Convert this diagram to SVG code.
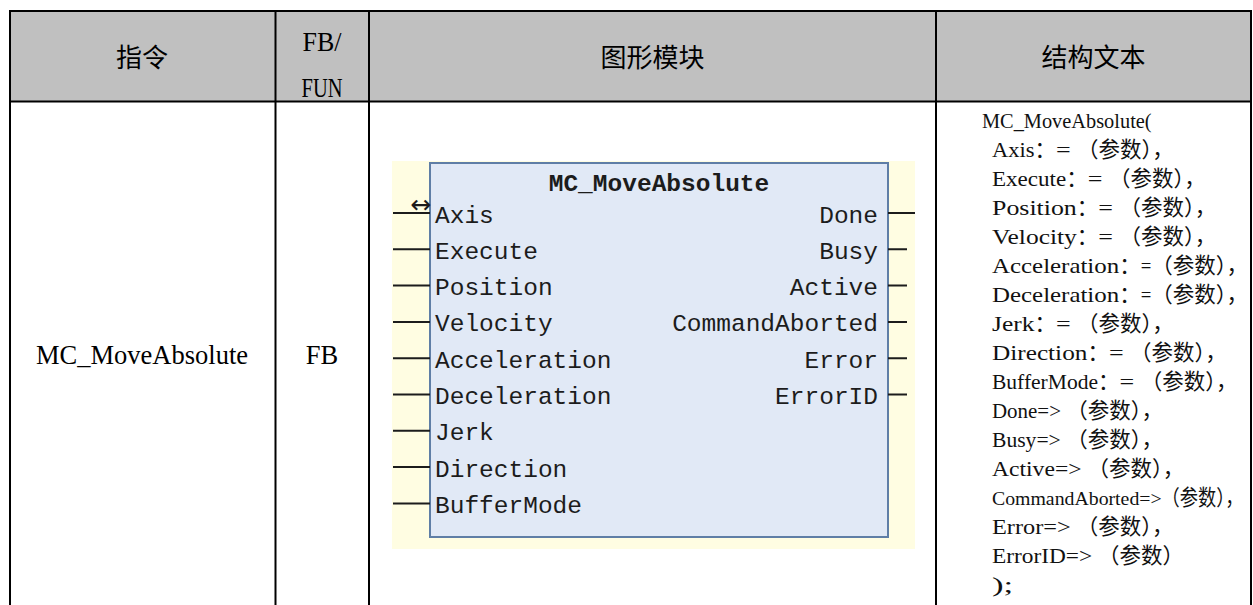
<svg xmlns="http://www.w3.org/2000/svg" width="1253" height="605" viewBox="0 0 1253 605">
<style>
.hdr{font-family:"Noto Sans CJK SC","Noto Sans",sans-serif;font-size:26px;fill:#000;text-anchor:middle}
.ser{font-family:"Liberation Serif","Noto Sans CJK SC",serif;fill:#000}
.mono{font-family:"Liberation Mono","DejaVu Sans Mono",monospace;font-size:24.5px;fill:#1c1c1c}
.st{font-family:"Liberation Serif","Noto Sans CJK SC",serif;font-size:21px;fill:#111;white-space:pre}
.cj{font-family:"Noto Sans CJK SC",sans-serif;font-size:21.5px}
.grid{stroke:#000;stroke-width:2;fill:none}
.pin{stroke:#1c1c1c;stroke-width:2}
</style>
<g id="table">
  <rect x="10" y="11" width="1241" height="90.5" fill="#c0c0c0"/>
  <path class="grid" d="M10,11 H1251 M10,101.5 H1251 M10,10 V605 M275.5,11 V605 M369,11 V605 M936,11 V605 M1251,10 V605"/>
</g>
<g id="header">
  <text class="hdr" x="142" y="67">指令</text>
  <text class="ser" x="322" y="51" font-size="27" text-anchor="middle" textLength="39" lengthAdjust="spacingAndGlyphs">FB/</text>
  <text class="ser" x="322" y="97" font-size="27" text-anchor="middle" textLength="41" lengthAdjust="spacingAndGlyphs">FUN</text>
  <text class="hdr" x="652.5" y="67">图形模块</text>
  <text class="hdr" x="1093.5" y="67">结构文本</text>
</g>
<g id="row">
  <text class="ser" x="142" y="364" font-size="26.5" text-anchor="middle">MC_MoveAbsolute</text>
  <text class="ser" x="322" y="364" font-size="26.5" text-anchor="middle">FB</text>
</g>
<g id="fb-block">
  <rect x="392" y="161" width="523" height="388" fill="#fffde2"/>
  <rect x="430" y="163" width="458" height="374" fill="#e1e9f6" stroke="#5f7ea6" stroke-width="2"/>
  <text class="mono" x="659" y="191" font-weight="bold" text-anchor="middle">MC_MoveAbsolute</text>
  <g id="inputs">
    <text class="mono" x="435" y="222.5">Axis</text>
    <text class="mono" x="435" y="258.8">Execute</text>
    <text class="mono" x="435" y="295.1">Position</text>
    <text class="mono" x="435" y="331.4">Velocity</text>
    <text class="mono" x="435" y="367.7">Acceleration</text>
    <text class="mono" x="435" y="404">Deceleration</text>
    <text class="mono" x="435" y="440.3">Jerk</text>
    <text class="mono" x="435" y="476.6">Direction</text>
    <text class="mono" x="435" y="512.9">BufferMode</text>
  </g>
  <g id="outputs" text-anchor="end">
    <text class="mono" x="878" y="222.5">Done</text>
    <text class="mono" x="878" y="258.8">Busy</text>
    <text class="mono" x="878" y="295.1">Active</text>
    <text class="mono" x="878" y="331.4">CommandAborted</text>
    <text class="mono" x="878" y="367.7">Error</text>
    <text class="mono" x="878" y="404">ErrorID</text>
  </g>
  <text x="421" y="213" font-family="DejaVu Sans,sans-serif" font-size="25" text-anchor="middle" fill="#1c1c1c">↔</text>
</g>
<g id="connectors">
  <path class="pin" d="M393,213 H430 M393,249.3 H430 M393,285.6 H430 M393,321.9 H430 M393,358.2 H430 M393,394.5 H430 M393,430.8 H430 M393,467.1 H430 M393,503.4 H430"/>
  <path class="pin" d="M888,213 H915 M888,249.3 H907 M888,285.6 H907 M888,321.9 H907 M888,358.2 H907 M888,394.5 H907"/>
</g>
<g id="structured-text">
  <text class="st" y="128"><tspan x="982" textLength="169.6" lengthAdjust="spacingAndGlyphs">MC_MoveAbsolute(</tspan></text>
  <text class="st" y="157"><tspan x="992" textLength="42.4" lengthAdjust="spacingAndGlyphs">Axis</tspan><tspan class="cj" x="1034.4">：</tspan><tspan x="1055.9" textLength="21.2" lengthAdjust="spacingAndGlyphs">= </tspan><tspan class="cj" x="1077.1">（参数），</tspan></text>
  <text class="st" y="186"><tspan x="992" textLength="74.2" lengthAdjust="spacingAndGlyphs">Execute</tspan><tspan class="cj" x="1066.2">：</tspan><tspan x="1087.7" textLength="21.2" lengthAdjust="spacingAndGlyphs">= </tspan><tspan class="cj" x="1108.9">（参数），</tspan></text>
  <text class="st" y="215"><tspan x="992" textLength="84.8" lengthAdjust="spacingAndGlyphs">Position</tspan><tspan class="cj" x="1076.8">：</tspan><tspan x="1098.3" textLength="21.2" lengthAdjust="spacingAndGlyphs">= </tspan><tspan class="cj" x="1119.5">（参数），</tspan></text>
  <text class="st" y="244"><tspan x="992" textLength="84.8" lengthAdjust="spacingAndGlyphs">Velocity</tspan><tspan class="cj" x="1076.8">：</tspan><tspan x="1098.3" textLength="21.2" lengthAdjust="spacingAndGlyphs">= </tspan><tspan class="cj" x="1119.5">（参数），</tspan></text>
  <text class="st" y="273"><tspan x="992" textLength="127.2" lengthAdjust="spacingAndGlyphs">Acceleration</tspan><tspan class="cj" x="1119.2">：</tspan><tspan x="1140.7" textLength="10.6" lengthAdjust="spacingAndGlyphs">=</tspan><tspan class="cj" x="1151.3">（参数），</tspan></text>
  <text class="st" y="302"><tspan x="992" textLength="127.2" lengthAdjust="spacingAndGlyphs">Deceleration</tspan><tspan class="cj" x="1119.2">：</tspan><tspan x="1140.7" textLength="10.6" lengthAdjust="spacingAndGlyphs">=</tspan><tspan class="cj" x="1151.3">（参数），</tspan></text>
  <text class="st" y="331"><tspan x="992" textLength="42.4" lengthAdjust="spacingAndGlyphs">Jerk</tspan><tspan class="cj" x="1034.4">：</tspan><tspan x="1055.9" textLength="21.2" lengthAdjust="spacingAndGlyphs">= </tspan><tspan class="cj" x="1077.1">（参数），</tspan></text>
  <text class="st" y="360"><tspan x="992" textLength="95.4" lengthAdjust="spacingAndGlyphs">Direction</tspan><tspan class="cj" x="1087.4">：</tspan><tspan x="1108.9" textLength="21.2" lengthAdjust="spacingAndGlyphs">= </tspan><tspan class="cj" x="1130.1">（参数），</tspan></text>
  <text class="st" y="389"><tspan x="992" textLength="106" lengthAdjust="spacingAndGlyphs">BufferMode</tspan><tspan class="cj" x="1098">：</tspan><tspan x="1119.5" textLength="21.2" lengthAdjust="spacingAndGlyphs">= </tspan><tspan class="cj" x="1140.7">（参数），</tspan></text>
  <text class="st" y="418"><tspan x="992" textLength="74.2" lengthAdjust="spacingAndGlyphs">Done=&gt; </tspan><tspan class="cj" x="1066.2">（参数），</tspan></text>
  <text class="st" y="447"><tspan x="992" textLength="74.2" lengthAdjust="spacingAndGlyphs">Busy=&gt; </tspan><tspan class="cj" x="1066.2">（参数），</tspan></text>
  <text class="st" y="476"><tspan x="992" textLength="95.4" lengthAdjust="spacingAndGlyphs">Active=&gt; </tspan><tspan class="cj" x="1087.4">（参数），</tspan></text>
  <text class="st" y="505"><tspan x="992" font-size="19.3" textLength="169.6" lengthAdjust="spacingAndGlyphs">CommandAborted=&gt;</tspan><tspan class="cj" x="1161.6" font-size="19" textLength="82" lengthAdjust="spacingAndGlyphs">（参数），</tspan></text>
  <text class="st" y="534"><tspan x="992" textLength="84.8" lengthAdjust="spacingAndGlyphs">Error=&gt; </tspan><tspan class="cj" x="1076.8">（参数），</tspan></text>
  <text class="st" y="563"><tspan x="992" textLength="106" lengthAdjust="spacingAndGlyphs">ErrorID=&gt; </tspan><tspan class="cj" x="1098">（参数）</tspan></text>
  <text class="st" y="592"><tspan x="992" textLength="21.2" lengthAdjust="spacingAndGlyphs">);</tspan></text>
</g>
</svg>
